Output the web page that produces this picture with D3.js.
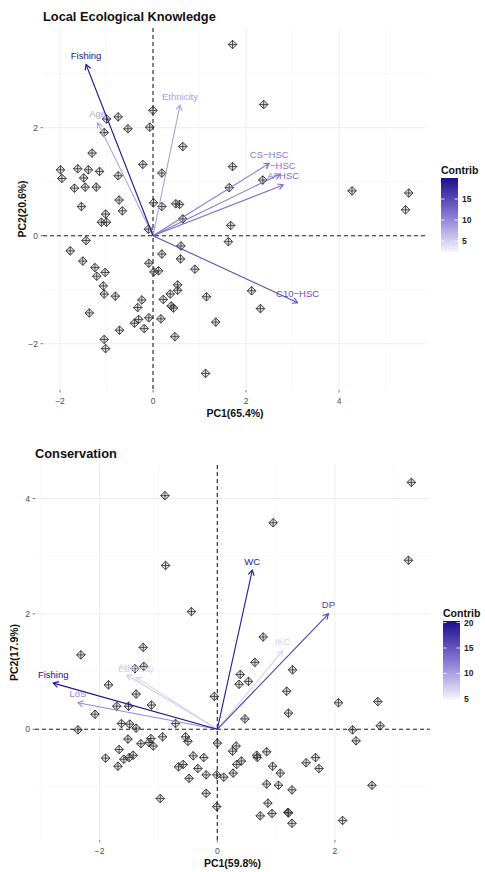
<!DOCTYPE html>
<html>
<head>
<meta charset="utf-8">
<script src="https://cdn.jsdelivr.net/npm/d3@7"></script>
<style>
  body { margin: 0; background: #fff; }
  svg { display: block; font-family: "Liberation Sans", Arial, Helvetica, sans-serif; }
</style>
</head>
<body>
<div id="chart"></div>
<script>
// ---- Local Ecological Knowledge (top) ----
const lekPointsX = [1.71, 0, 2.38, -1.0, -0.75, -0.54, -0.07, -1.05, 0.64, -1.31, -0.22, 0.19, 1.71, -1.99, -1.96, -1.62, -1.39, -1.15, -1.49, -0.75, -1.69, -1.46, -1.22, 1.64, 2.36, 4.28, 5.50,
  -1.54, -0.73, -0.66, -1.02, -1.11, -1.00, 0.01, 0.19, 0.49, 0.57, 0.64, 1.67, -0.10, -1.44, 1.62, 5.43,
  -1.78, -1.51, -1.25, -1.21, -1.03, -1.07, -1.05, -0.81, -1.37, -1.05, -1.02, -0.72, -0.40, -0.31, -0.19, -0.33, -0.24, -0.09, 0.17, 0.22, 0.37, 0.53, 0.53, 0.39, 0.44, 0.47,
  -0.09, 0.02, 0.12, 0.19, 0.59, 0.60, 0.90, 1.15, 1.35, 2.12, 2.31, 1.13];
const lekPointsY = [3.54, 2.32, 2.43, 2.16, 2.20, 1.98, 2.01, 1.91, 1.65, 1.53, 1.32, 1.16, 1.28, 1.22, 1.06, 1.24, 1.22, 1.19, 1.07, 1.11, 0.88, 0.90, 0.90, 0.89, 1.03, 0.83, 0.79,
  0.54, 0.66, 0.46, 0.40, 0.25, 0.25, 0.61, 0.54, 0.59, 0.58, 0.31, 0.19, 0.12, -0.09, -0.11, 0.48,
  -0.28, -0.47, -0.59, -0.75, -0.68, -0.93, -1.08, -1.12, -1.43, -1.92, -2.09, -1.75, -1.62, -1.55, -1.72, -1.33, -1.19, -1.52, -1.54, -1.18, -1.08, -1.01, -0.91, -1.30, -1.34, -1.87,
  -0.51, -0.67, -0.65, -0.34, -0.43, -0.19, -0.62, -1.13, -1.60, -1.02, -1.35, -2.55];
const lekVars = ['Fishing', 'Age', 'Ethnicity', 'CS−HSC', 'T−HSC', 'A−HSC', 'C10−HSC'];
const lekVarX = [-1.44, -1.19, 0.58, 2.50, 2.73, 2.80, 3.11];
const lekVarY = [3.17, 2.09, 2.42, 1.34, 1.14, 0.94, -1.24];
const lekContrib = [19.5, 8, 8.5, 11, 11.5, 12, 14.5];
const lekXTicks = [-2, 0, 2, 4];
const lekYTicks = [-2, 0, 2];
const lekLegendTicks = [5, 10, 15];

// ---- Conservation (bottom) ----
const conPointsX = [3.30, -0.89, 0.95, -0.88, 3.25, -0.44, 0.78, -1.26, -2.32, -1.25, -1.40, 0.64, 0.39, 0.37, 0.53, 1.28, 1.18, 1.21, 0.47, -0.05,
  2.06, 2.73, 2.77, 2.30, 2.36, 2.63, 2.13, -1.85, -1.38, -1.12, -1.71, -1.51, -2.08, -0.71, -2.37, -1.63, -1.49, -1.38, -1.52, -1.67,
  -1.90, -1.69, -1.59, -1.50, -1.43, -1.30, -1.16, -1.13, -1.09, -0.93, -0.54, -0.50, -0.41, -0.23, -0.66, -0.58, -0.33, -0.48, -0.19, 0,
  -0.01, 0.11, 0.27, 0.32, 0.26, 0.41, 0.33, 0.67, 0.68, 0.84, 0.94, 1.07, 0.84, 1.04, 1.27, 1.51, 1.67, 1.73, -0.19, -0.97,
  -0.01, 0.86, 0.73, 0.93, 1.20, 1.21, 1.27];
const conPointsY = [4.28, 4.05, 3.58, 2.84, 2.93, 2.04, 1.60, 1.42, 1.29, 1.09, 1.05, 1.16, 0.95, 0.78, 0.83, 1.03, 0.66, 0.28, 0.18, 0.57,
  0.46, 0.48, 0.06, -0.01, -0.20, -0.97, -1.58, 0.77, 0.61, 0.42, 0.40, 0.40, 0.26, 0.10, -0.01, 0.10, 0.09, 0.02, -0.17, -0.35,
  -0.50, -0.64, -0.52, -0.49, -0.45, -0.25, -0.23, -0.16, -0.29, -0.13, -0.13, -0.21, -0.46, -0.49, -0.65, -0.61, -0.68, -0.85, -0.79, -0.24,
  -0.79, -0.83, -0.76, -0.29, -0.38, -0.55, -0.61, -0.45, -0.49, -0.39, -0.64, -0.76, -0.95, -0.97, -1.05, -0.58, -0.49, -0.68, -1.11, -1.20,
  -1.34, -1.28, -1.50, -1.46, -1.44, -1.45, -1.63];
const conVars = ['Fishing', 'LoS', 'Age', 'Ethnicity', 'WC', 'DP', 'IKC'];
const conVarX = [-2.79, -2.37, -1.54, -1.38, 0.595, 1.89, 1.11];
const conVarY = [0.80, 0.46, 0.94, 0.90, 2.76, 2.0, 1.36];
const conContrib = [20, 11.5, 7.2, 6.8, 19.5, 16.5, 7];
const conXTicks = [-2, 0, 2];
const conYTicks = [0, 2, 4];
const conLegendTicks = [5, 10, 15, 20];

const W = 485, H = 872;
const svg = d3.select('#chart').append('svg').attr('width', W).attr('height', H);
const defs = svg.append('defs');

const lowCol = '#f7f5fd', midCol = '#8676d3', highCol = '#1d0d8d';

function drawPanel(o) {
  const g = svg.append('g');
  const x = d3.scaleLinear().domain(o.xDomain).range([o.left, o.right]);
  const y = d3.scaleLinear().domain(o.yDomain).range([o.bottom, o.top]);
  const [c0, c1] = o.cDomain;
  const color = d3.scaleLinear()
    .domain([c0, (c0 + c1) / 2, c1])
    .range([lowCol, midCol, highCol])
    .interpolate(d3.interpolateRgb);

  // grid
  const xs = d3.range(Math.ceil(o.xDomain[0]), Math.floor(o.xDomain[1]) + 1);
  const ys = d3.range(Math.ceil(o.yDomain[0]), Math.floor(o.yDomain[1]) + 1);
  const grid = g.append('g');
  grid.selectAll('line.vx').data(xs).join('line')
    .attr('x1', (d) => x(d)).attr('x2', (d) => x(d))
    .attr('y1', o.top).attr('y2', o.bottom)
    .attr('stroke', (d) => (d % 2 === 0 ? '#ebebeb' : '#f5f5f5'))
    .attr('stroke-width', (d) => (d % 2 === 0 ? 0.9 : 0.6));
  grid.selectAll('line.hy').data(ys).join('line')
    .attr('y1', (d) => y(d)).attr('y2', (d) => y(d))
    .attr('x1', o.left).attr('x2', o.right)
    .attr('stroke', (d) => (d % 2 === 0 ? '#ebebeb' : '#f5f5f5'))
    .attr('stroke-width', (d) => (d % 2 === 0 ? 0.9 : 0.6));

  // reference lines
  g.append('line').attr('x1', o.left).attr('x2', o.right).attr('y1', y(0)).attr('y2', y(0))
    .attr('stroke', '#222').attr('stroke-width', 1.1).attr('stroke-dasharray', '4,3');
  g.append('line').attr('x1', x(0)).attr('x2', x(0)).attr('y1', o.top).attr('y2', o.bottom)
    .attr('stroke', '#222').attr('stroke-width', 1.1).attr('stroke-dasharray', '4,3');

  // points: diamond plus
  const r = 4.3;
  const pts = g.append('g').selectAll('g').data(o.px.map((d, i) => [d, o.py[i]])).join('g')
    .attr('transform', (d) => `translate(${x(d[0])},${y(d[1])})`);
  pts.append('path')
    .attr('d', `M0,${-r}L${r},0L0,${r}L${-r},0Z`)
    .attr('fill', 'rgba(120,120,120,0.22)')
    .attr('stroke', '#2b2b2b').attr('stroke-width', 0.9);
  pts.append('path')
    .attr('d', `M0,${-r}V${r}M${-r},0H${r}`)
    .attr('stroke', '#2b2b2b').attr('stroke-width', 0.8);

  // variable arrows (light first so dark ones sit on top)
  const vars = o.names.map((n, i) => ({ n, vx: o.vx[i], vy: o.vy[i], c: o.contrib[i] }))
    .sort((a, b) => a.c - b.c);
  const ag = g.append('g');
  vars.forEach((v) => {
    const x0 = x(0), y0 = y(0), x1 = x(v.vx), y1 = y(v.vy);
    const a = Math.atan2(y1 - y0, x1 - x0);
    const L = 6, t = Math.PI / 6;
    const col = color(v.c);
    ag.append('line').attr('x1', x0).attr('y1', y0).attr('x2', x1).attr('y2', y1)
      .attr('stroke', col).attr('stroke-width', 1.1);
    ag.append('path')
      .attr('d', `M${x1 - L * Math.cos(a - t)},${y1 - L * Math.sin(a - t)}L${x1},${y1}L${x1 - L * Math.cos(a + t)},${y1 - L * Math.sin(a + t)}`)
      .attr('fill', 'none').attr('stroke', col).attr('stroke-width', 1.1);
    ag.append('text').attr('x', x1).attr('y', y1 - 5.5)
      .attr('text-anchor', 'middle').attr('font-size', 9.5)
      .attr('fill', col).text(v.n);
  });

  // axes ticks + labels
  const fmt = d3.format('d');
  const ax = g.append('g').attr('fill', '#4d4d4d').attr('font-size', 8.5);
  o.xTicks.forEach((t) => {
    ax.append('line').attr('x1', x(t)).attr('x2', x(t)).attr('y1', o.bottom).attr('y2', o.bottom + 2.5)
      .attr('stroke', '#555').attr('stroke-width', 0.8);
    ax.append('text').attr('x', x(t)).attr('y', o.bottom + 13.5).attr('text-anchor', 'middle').text(fmt(t));
  });
  o.yTicks.forEach((t) => {
    ax.append('line').attr('x1', o.left - 2.5).attr('x2', o.left).attr('y1', y(t)).attr('y2', y(t))
      .attr('stroke', '#555').attr('stroke-width', 0.8);
    ax.append('text').attr('x', o.left - 5).attr('y', y(t) + 3).attr('text-anchor', 'end').text(fmt(t));
  });

  // titles
  g.append('text').attr('x', o.left).attr('y', o.titleY)
    .attr('font-size', 12.8).attr('font-weight', 'bold').attr('fill', '#111').text(o.title);
  g.append('text').attr('x', (o.left + o.right) / 2).attr('y', o.bottom + 27)
    .attr('text-anchor', 'middle').attr('font-size', 10.5).attr('font-weight', 'bold').attr('fill', '#111')
    .text(o.xTitle);
  g.append('text')
    .attr('transform', `translate(${o.left - 17},${(o.top + o.bottom) / 2}) rotate(-90)`)
    .attr('text-anchor', 'middle').attr('font-size', 10.5).attr('font-weight', 'bold').attr('fill', '#111')
    .text(o.yTitle);

  // legend colour bar
  const lg = g.append('g');
  const gid = `grad-${o.id}`;
  const grad = defs.append('linearGradient').attr('id', gid)
    .attr('x1', 0).attr('y1', 1).attr('x2', 0).attr('y2', 0);
  d3.range(0, 1.0001, 0.1).forEach((f) => {
    grad.append('stop').attr('offset', `${f * 100}%`).attr('stop-color', color(c0 + f * (c1 - c0)));
  });
  const ly = d3.scaleLinear().domain(o.cDomain).range([o.legBottom, o.legTop]);
  lg.append('text').attr('x', o.legX).attr('y', o.legTop - 4)
    .attr('font-size', 10.5).attr('font-weight', 'bold').attr('fill', '#111').text('Contrib');
  lg.append('rect').attr('x', o.legX).attr('y', o.legTop).attr('width', 17)
    .attr('height', o.legBottom - o.legTop).attr('fill', `url(#${gid})`);
  o.legTicks.forEach((t) => {
    lg.append('line').attr('x1', o.legX).attr('x2', o.legX + 3.5).attr('y1', ly(t)).attr('y2', ly(t))
      .attr('stroke', '#fff').attr('stroke-width', 0.8);
    lg.append('line').attr('x1', o.legX + 13.5).attr('x2', o.legX + 17).attr('y1', ly(t)).attr('y2', ly(t))
      .attr('stroke', '#fff').attr('stroke-width', 0.8);
    lg.append('text').attr('x', o.legX + 21).attr('y', ly(t) + 3).attr('font-size', 8.5)
      .attr('font-weight', 'bold').attr('fill', '#222').text(t);
  });
}

drawPanel({
  id: 'lek', title: 'Local Ecological Knowledge', xTitle: 'PC1(65.4%)', yTitle: 'PC2(20.6%)',
  left: 43, right: 427, top: 28, bottom: 390, titleY: 21,
  xDomain: [-2.366, 5.892], yDomain: [-2.857, 3.846],
  px: lekPointsX, py: lekPointsY,
  names: lekVars, vx: lekVarX, vy: lekVarY, contrib: lekContrib,
  cDomain: [2.4, 20], xTicks: lekXTicks, yTicks: lekYTicks, legTicks: lekLegendTicks,
  legX: 441, legTop: 178, legBottom: 252,
});

drawPanel({
  id: 'con', title: 'Conservation', xTitle: 'PC1(59.8%)', yTitle: 'PC2(17.9%)',
  left: 35, right: 430, top: 465, bottom: 840, titleY: 458,
  xDomain: [-3.1, 3.617], yDomain: [-1.919, 4.581],
  px: conPointsX, py: conPointsY,
  names: conVars, vx: conVarX, vy: conVarY, contrib: conContrib,
  cDomain: [4.8, 20.3], xTicks: conXTicks, yTicks: conYTicks, legTicks: conLegendTicks,
  legX: 443, legTop: 621, legBottom: 700,
});
</script>
</body>
</html>
